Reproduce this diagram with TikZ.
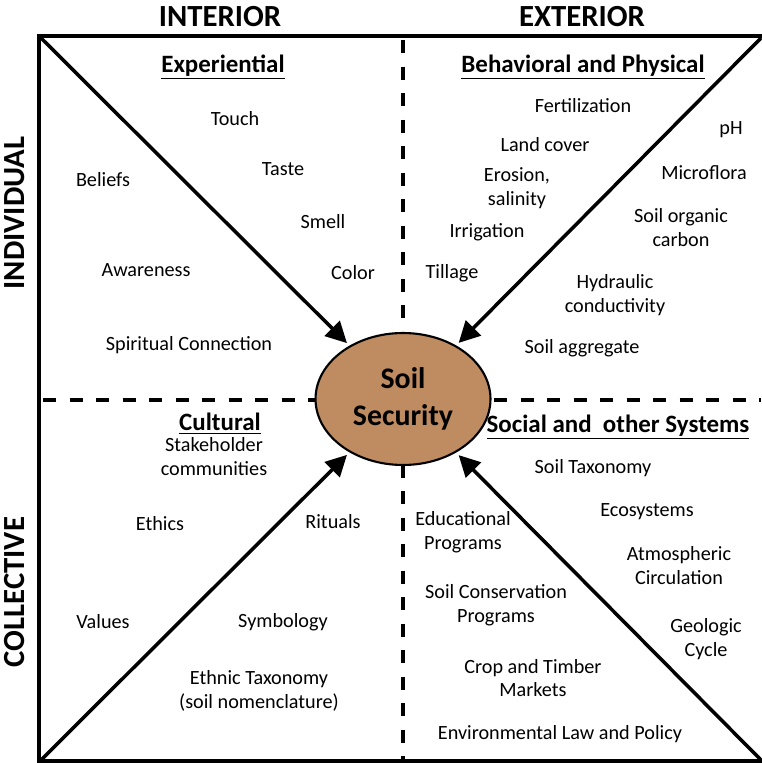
\documentclass[tikz,border=0pt]{standalone}
\usepackage{fontspec}
\setmainfont{Carlito}
\usepackage{xcolor}
\usetikzlibrary{arrows.meta, shapes.geometric}

\definecolor{soilbrown}{RGB}{191,139,96}

\tikzset{
  item/.style={font=\fontsize{11.5}{13.6}\selectfont, align=center, inner sep=0pt},
  quadhead/.style={font=\fontsize{14.2}{16}\selectfont\bfseries, inner sep=0pt},
  axislabel/.style={font=\fontsize{17.5}{20}\selectfont\bfseries, inner sep=0pt},
  divider/.style={line width=2.8pt, dash pattern=on 7.5pt off 7.6pt},
  spoke/.style={line width=2pt, -{Triangle[length=12pt,width=12pt]}, shorten >=2pt},
}

\begin{document}
\begin{tikzpicture}[x=0.02cm, y=-0.02cm]
\useasboundingbox (0,0) rectangle (761,763);

% quadrant dividers
\draw[divider] (403,40) -- (403,762);
\draw[divider] (43,400) -- (761,400);

% outer frame
\draw[line width=2.3pt] (39,36) rectangle (765,761);
\coordinate (nw) at (41,38);
\coordinate (ne) at (761,38);
\coordinate (sw) at (41,760);
\coordinate (se) at (761,760);

% centre
\node[ellipse, draw, line width=1.2pt, fill=soilbrown, minimum width=3.5cm, minimum height=2.64cm,
      inner sep=0pt, align=center, font=\fontsize{17}{21}\selectfont\bfseries] (soil) at (403,399)
      {Soil\\Security};

\draw[spoke] (nw) -- (soil);
\draw[spoke] (ne) -- (soil);
\draw[spoke] (sw) -- (soil);
\draw[spoke] (se) -- (soil);

% axis labels
\node[axislabel] (interior) at (220,17) {INTERIOR};
\node[axislabel] (exterior) at (582,17) {EXTERIOR};
\node[axislabel, rotate=90] (individual) at (15,213) {INDIVIDUAL};
\node[axislabel, rotate=90] (collective) at (15,592) {COLLECTIVE};

% upper left
\node[quadhead] (exper) at (223,67) {\underline{Experiential}};
\node[item] (touch) at (235,119) {Touch};
\node[item] (taste) at (283,169) {Taste};
\node[item] (beliefs) at (103,180) {Beliefs};
\node[item] (smell) at (323,222) {Smell};
\node[item] (aware) at (146,270) {Awareness};
\node[item] (color) at (353,273) {Color};
\node[item] (spirit) at (189,345) {Spiritual Connection};

% upper right
\node[quadhead] (behav) at (583,67) {\underline{Behavioral and Physical}};
\node[item] (fert) at (583,106) {Fertilization};
\node[item] (ph) at (731,130) {pH};
\node[item] (land) at (545,145) {Land cover};
\node[item] (erosion) at (517,188) {Erosion,\\salinity};
\node[item] (micro) at (704,173) {Microflora};
\node[item] (carbon) at (681,228) {Soil organic\\carbon};
\node[item] (irrig) at (487,232) {Irrigation};
\node[item] (tillage) at (452,273) {Tillage};
\node[item] (hydro) at (615,295) {Hydraulic\\conductivity};
\node[item] (aggr) at (582,348) {Soil aggregate};

% lower left
\node[quadhead] (cult) at (220,424) {\underline{Cultural}};
\node[item] (stake) at (214,457) {Stakeholder\\communities};
\node[item] (ethics) at (160,524) {Ethics};
\node[item] (rituals) at (333,522) {Rituals};
\node[item] (values) at (103,622) {Values};
\node[item] (symb) at (283,622) {Symbology};
\node[item] (ethnic) at (259,691) {Ethnic Taxonomy\\(soil nomenclature)};

% lower right
\node[quadhead] (social) at (618,427) {\underline{Social and~~other Systems}};
\node[item] (taxo) at (593,468) {Soil Taxonomy};
\node[item] (eco) at (647,512) {Ecosystems};
\node[item] (edu) at (463,532) {Educational\\Programs};
\node[item] (atmo) at (679,566) {Atmospheric\\Circulation};
\node[item] (conserv) at (496,605) {Soil Conservation\\Programs};
\node[item] (geo) at (706,639) {Geologic\\Cycle};
\node[item] (crop) at (533,678) {Crop and Timber\\Markets};
\node[item] (law) at (560,734) {Environmental Law and Policy};
\end{tikzpicture}
\end{document}
